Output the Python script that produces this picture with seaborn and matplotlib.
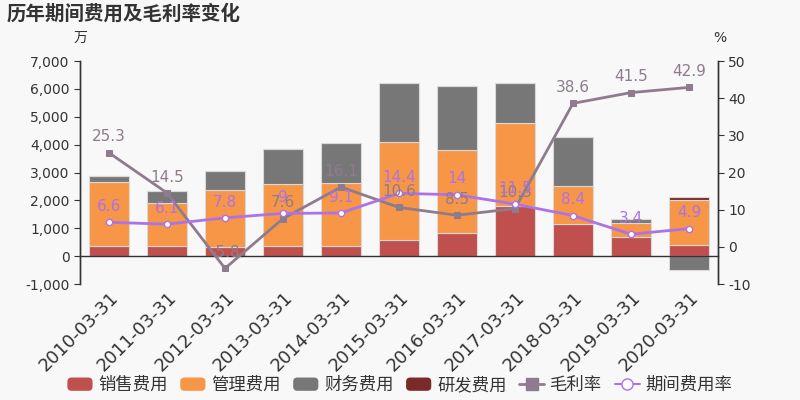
import numpy as np
import pandas as pd
import matplotlib
matplotlib.use("Agg")
import matplotlib.pyplot as plt
import seaborn as sns
from matplotlib.patches import Patch, FancyBboxPatch
from matplotlib.lines import Line2D
from matplotlib.legend_handler import HandlerPatch
from matplotlib.ticker import FuncFormatter, FixedLocator

dates = ["2010-03-31", "2011-03-31", "2012-03-31", "2013-03-31", "2014-03-31",
         "2015-03-31", "2016-03-31", "2017-03-31", "2018-03-31", "2019-03-31", "2020-03-31"]
sales = [370, 370, 330, 370, 370, 570, 830, 1800, 1150, 690, 400]
admin = [2300, 1520, 2060, 2230, 2240, 3510, 2990, 2970, 1370, 510, 1630]
finance = [200, 440, 670, 1260, 1450, 2140, 2290, 1430, 1770, 140, -490]
rnd = [0, 0, 0, 0, 0, 0, 0, 0, 0, 0, 80]
gross_margin = [25.3, 14.5, -5.8, 7.6, 16.1, 10.6, 8.5, 10.3, 38.6, 41.5, 42.9]
period_rate = [6.6, 6.1, 7.8, 9, 9.1, 14.4, 14, 11.5, 8.4, 3.4, 4.9]

sns.set_style("white")
plt.rcParams["font.family"] = ["Noto Sans CJK SC", "DejaVu Sans"]
plt.rcParams["axes.unicode_minus"] = False

c_sales = "#c0504d"
c_admin = "#f79646"
c_fin = "#777777"
c_rnd = "#7b2a2a"
c_gm = "#8e7c8e"
c_pr = "#ad72e6"
bg = "#f8f8f8"

fig = plt.figure(figsize=(8, 4), dpi=100, facecolor=bg)
ax = fig.add_axes([0.1, 0.29, 0.7975, 0.5575], facecolor=bg)

sales_a = np.array(sales, float)
admin_a = np.array(admin, float)
fin_a = np.array(finance, float)
rnd_a = np.array(rnd, float)

b_admin = sales_a
b_fin = np.where(fin_a >= 0, sales_a + admin_a, 0)
b_rnd = sales_a + admin_a + np.clip(fin_a, 0, None)

ekw = dict(edgecolor="#d9d9d9", linewidth=0.8, width=0.7, ax=ax)
sns.barplot(x=dates, y=sales_a, color=c_sales, saturation=1, **ekw)
sns.barplot(x=dates, y=admin_a, bottom=b_admin, color=c_admin, saturation=1, **ekw)
sns.barplot(x=dates, y=fin_a, bottom=b_fin, color=c_fin, saturation=1, **ekw)
sns.barplot(x=dates, y=rnd_a, bottom=b_rnd, color=c_rnd, saturation=1, **ekw)

ax.set_ylim(-1000, 7000)
ax.set_yticks(np.arange(-1000, 7001, 1000))
ax.yaxis.set_major_formatter(FuncFormatter(lambda v, p: f"{int(v):,}"))
ax.set_xlim(-0.5, len(dates) - 0.5)
ax.set_xlabel("")
ax.set_ylabel("")

ax2 = ax.twinx()
x = np.arange(len(dates))
sns.lineplot(x=x, y=gross_margin, ax=ax2, color=c_gm, linewidth=2,
             marker="s", markersize=5, markeredgecolor=c_gm, markerfacecolor=c_gm)
sns.lineplot(x=x, y=period_rate, ax=ax2, color=c_pr, linewidth=2,
             marker="o", markersize=4.5, markeredgecolor=c_pr, markerfacecolor="white",
             markeredgewidth=1)
ax2.set_ylim(-10, 50)
ax2.set_yticks(np.arange(-10, 51, 10))
ax2.set_xlim(-0.5, len(dates) - 0.5)

for xi, v in zip(x, gross_margin):
    ax2.annotate(f"{v:g}", (xi, v), xytext=(0, 6), textcoords="offset points",
                 ha="center", va="bottom", fontsize=11, color=c_gm, family="DejaVu Sans")
for xi, v in zip(x, period_rate):
    ax2.annotate(f"{v:g}", (xi, v), xytext=(0, 6), textcoords="offset points",
                 ha="center", va="bottom", fontsize=11, color=c_pr, family="DejaVu Sans")

# axes styling
for a in (ax, ax2):
    a.spines["top"].set_visible(False)
    for s in ("left", "right"):
        a.spines[s].set_color("#333333")
        a.spines[s].set_linewidth(1)
ax2.spines["bottom"].set_visible(False)
ax.spines["bottom"].set_position(("data", 0))
ax.spines["bottom"].set_color("#333333")
ax.spines["bottom"].set_linewidth(1)

ax.tick_params(axis="y", left=True, length=4, color="#333333", labelsize=10,
               labelcolor="#333333", direction="out")
ax2.tick_params(axis="y", right=True, length=4, color="#333333", labelsize=10,
                labelcolor="#333333", direction="out")
ax.set_xticks(x)
ax.set_xticklabels(dates, rotation=45, ha="right", rotation_mode="anchor",
                   fontsize=13, color="#333333", family="DejaVu Sans")
ax.tick_params(axis="x", which="major", length=0, pad=23)
ax.xaxis.set_minor_locator(FixedLocator(np.arange(-0.5, len(dates), 1.0)))
ax.tick_params(axis="x", which="minor", length=5, color="#333333", direction="out")
for lab in ax.get_yticklabels() + ax2.get_yticklabels():
    lab.set_family("DejaVu Sans")

fig.text(0.1, 0.905, "万", ha="center", va="center", fontsize=10, color="#333333")
fig.text(0.9, 0.905, "%", ha="center", va="center", fontsize=10, color="#333333",
         family="DejaVu Sans")
fig.text(0.008, 0.965, "历年期间费用及毛利率变化", ha="left", va="center",
         fontsize=14, fontweight="bold", color="#333333")


class HRound(HandlerPatch):
    def create_artists(self, legend, orig_handle, xdescent, ydescent, width, height,
                       fontsize, trans):
        p = FancyBboxPatch((-xdescent, -ydescent), width, height,
                           boxstyle="round,pad=0,rounding_size=3",
                           facecolor=orig_handle.get_facecolor(), edgecolor="none",
                           transform=trans)
        return [p]


handles = [
    Patch(facecolor=c_sales, edgecolor="none"),
    Patch(facecolor=c_admin, edgecolor="none"),
    Patch(facecolor=c_fin, edgecolor="none"),
    Patch(facecolor=c_rnd, edgecolor="none"),
    Line2D([], [], color=c_gm, lw=2, marker="s", markersize=8),
    Line2D([], [], color=c_pr, lw=1.5, marker="o", markersize=8,
           markerfacecolor="white", markeredgecolor=c_pr),
]
labels = ["销售费用", "管理费用", "财务费用", "研发费用", "毛利率", "期间费用率"]
fig.legend(handles, labels, loc="center", bbox_to_anchor=(0.5, 0.037), ncol=6,
           frameon=False, fontsize=12.5, handlelength=1.45, handleheight=0.8,
           columnspacing=0.7, handletextpad=0.35, labelcolor="#333333",
           handler_map={Patch: HRound()})

fig.savefig("out.png", dpi=100, facecolor=bg)
